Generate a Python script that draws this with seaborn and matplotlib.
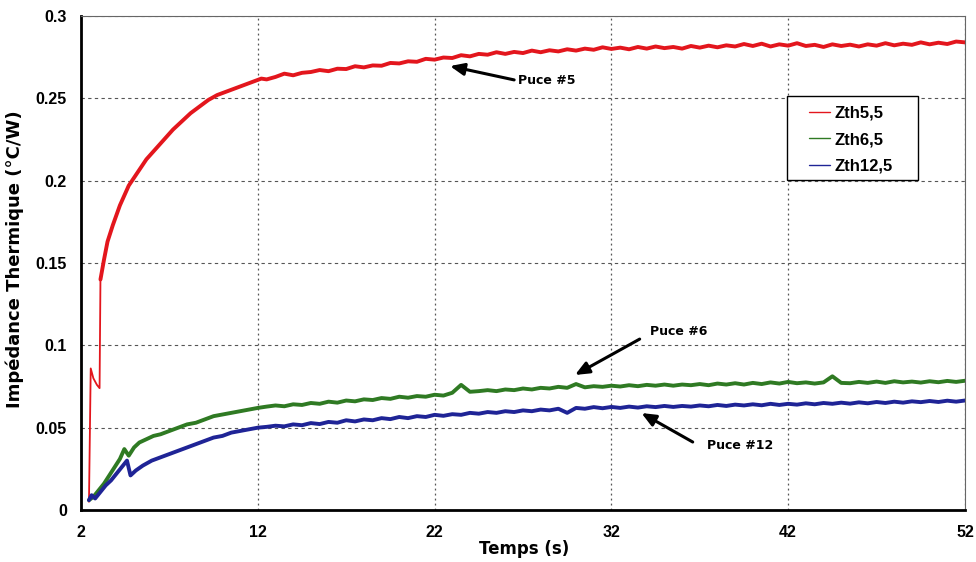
import matplotlib

matplotlib.use("Agg")
import matplotlib.pyplot as plt
import pandas as pd
import seaborn as sns
from matplotlib.patches import Rectangle

# values (time in s, impedance in degC/W)
# first points of the red trace: drop line, short plateau, jump
time_red_start = [2.45, 2.55, 2.7, 2.9, 3.05, 3.1]
zth5_start = [0.005, 0.086, 0.080, 0.076, 0.074, 0.140]

time_red = [3.1, 3.3, 3.5, 3.8, 4.2, 4.7, 5.2, 5.7, 6.2, 6.7, 7.2, 7.7, 8.2, 8.7, 9.2, 9.7,
            10.2, 10.7, 11.2, 11.7, 12.2,
            12.5, 13, 13.5, 14, 14.5, 15, 15.5, 16, 16.5, 17, 17.5, 18, 18.5, 19, 19.5, 20,
            20.5, 21, 21.5, 22, 22.5, 23, 23.5, 24, 24.5, 25, 25.5, 26, 26.5, 27, 27.5, 28,
            28.5, 29, 29.5, 30, 30.5, 31, 31.5, 32, 32.5, 33, 33.5, 34, 34.5, 35, 35.5, 36,
            36.5, 37, 37.5, 38, 38.5, 39, 39.5, 40, 40.5, 41, 41.5, 42, 42.5, 43, 43.5, 44,
            44.5, 45, 45.5, 46, 46.5, 47, 47.5, 48, 48.5, 49, 49.5, 50, 50.5, 51, 51.5, 52]
zth5 = [0.140, 0.152, 0.163, 0.173, 0.185, 0.197, 0.205, 0.213, 0.219, 0.225, 0.231, 0.236,
        0.241, 0.245, 0.249, 0.252, 0.254, 0.256, 0.258, 0.260, 0.262,
        0.2615, 0.2630, 0.2650, 0.2640, 0.2655, 0.2660, 0.2672, 0.2665, 0.2680, 0.2678,
        0.2695, 0.2688, 0.2700, 0.2698, 0.2715, 0.2712, 0.2725, 0.2722, 0.2740, 0.2735,
        0.2748, 0.2745, 0.2762, 0.2755, 0.2770, 0.2765, 0.2780, 0.2770, 0.2782, 0.2775,
        0.2790, 0.2780, 0.2792, 0.2785, 0.2798, 0.2790, 0.2802, 0.2795, 0.2810, 0.2800,
        0.2808, 0.2798, 0.2812, 0.2802, 0.2815, 0.2805, 0.2812, 0.2802, 0.2818, 0.2808,
        0.2820, 0.2810, 0.2822, 0.2815, 0.2830, 0.2818, 0.2832, 0.2815, 0.2828, 0.2820,
        0.2835, 0.2818, 0.2825, 0.2812, 0.2828, 0.2818, 0.2826, 0.2815, 0.2828, 0.2820,
        0.2835, 0.2822, 0.2832, 0.2825, 0.2840, 0.2828, 0.2838, 0.2830, 0.2845, 0.2840]

time_green = [2.45, 2.7, 3.0, 3.3, 3.6, 3.9, 4.2, 4.45, 4.7, 5.0, 5.3, 5.7, 6.1, 6.5, 7.0,
              7.5, 8.0, 8.5, 9.0, 9.5, 10.0, 10.5, 11.0, 11.5, 12.0,
              12.5, 13, 13.5, 14, 14.5, 15, 15.5, 16, 16.5, 17, 17.5, 18, 18.5, 19, 19.5,
              20, 20.5, 21, 21.5, 22, 22.5, 23, 23.5, 24, 24.5, 25, 25.5, 26, 26.5, 27,
              27.5, 28, 28.5, 29, 29.5, 30, 30.5, 31, 31.5, 32, 32.5, 33, 33.5, 34, 34.5,
              35, 35.5, 36, 36.5, 37, 37.5, 38, 38.5, 39, 39.5, 40, 40.5, 41, 41.5, 42,
              42.5, 43, 43.5, 44, 44.5, 45, 45.5, 46, 46.5, 47, 47.5, 48, 48.5, 49, 49.5,
              50, 50.5, 51, 51.5, 52]
zth6 = [0.006, 0.008, 0.012, 0.016, 0.021, 0.026, 0.031, 0.037, 0.033, 0.038, 0.041, 0.043,
        0.045, 0.046, 0.048, 0.050, 0.052, 0.053, 0.055, 0.057, 0.058, 0.059, 0.060, 0.061,
        0.062,
        0.0628, 0.0635, 0.0630, 0.0642, 0.0638, 0.0650, 0.0645, 0.0658, 0.0652, 0.0665,
        0.0660, 0.0672, 0.0668, 0.0680, 0.0675, 0.0688, 0.0682, 0.0692, 0.0688, 0.0700,
        0.0695, 0.0712, 0.0760, 0.0718, 0.0722, 0.0728, 0.0722, 0.0732, 0.0728, 0.0738,
        0.0732, 0.0742, 0.0738, 0.0748, 0.0742, 0.0765, 0.0745, 0.0752, 0.0748, 0.0755,
        0.0750, 0.0758, 0.0752, 0.0760, 0.0755, 0.0762, 0.0755, 0.0762, 0.0758, 0.0765,
        0.0758, 0.0768, 0.0762, 0.0770, 0.0762, 0.0772, 0.0765, 0.0775, 0.0768, 0.0778,
        0.0770, 0.0775, 0.0768, 0.0775, 0.0812, 0.0772, 0.0770, 0.0778, 0.0772, 0.0780,
        0.0772, 0.0782, 0.0775, 0.0780, 0.0774, 0.0782, 0.0776, 0.0784, 0.0778, 0.0785]

time_blue = [2.45, 2.6, 2.8, 3.1, 3.4, 3.7, 4.0, 4.3, 4.6, 4.8, 5.1, 5.5, 6.0, 6.5, 7.0,
             7.5, 8.0, 8.5, 9.0, 9.5, 10.0, 10.5, 11.0, 11.5, 12.0,
             12.5, 13, 13.5, 14, 14.5, 15, 15.5, 16, 16.5, 17, 17.5, 18, 18.5, 19, 19.5,
             20, 20.5, 21, 21.5, 22, 22.5, 23, 23.5, 24, 24.5, 25, 25.5, 26, 26.5, 27,
             27.5, 28, 28.5, 29, 29.5, 30, 30.5, 31, 31.5, 32, 32.5, 33, 33.5, 34, 34.5,
             35, 35.5, 36, 36.5, 37, 37.5, 38, 38.5, 39, 39.5, 40, 40.5, 41, 41.5, 42,
             42.5, 43, 43.5, 44, 44.5, 45, 45.5, 46, 46.5, 47, 47.5, 48, 48.5, 49, 49.5,
             50, 50.5, 51, 51.5, 52]
zth12 = [0.006, 0.009, 0.007, 0.011, 0.015, 0.018, 0.022, 0.026, 0.030, 0.021, 0.024, 0.027,
         0.030, 0.032, 0.034, 0.036, 0.038, 0.040, 0.042, 0.044, 0.045, 0.047, 0.048, 0.049,
         0.050,
         0.0505, 0.0512, 0.0508, 0.0520, 0.0515, 0.0528, 0.0522, 0.0535, 0.0530, 0.0545,
         0.0538, 0.0550, 0.0545, 0.0558, 0.0552, 0.0565, 0.0558, 0.0570, 0.0565, 0.0578,
         0.0572, 0.0582, 0.0578, 0.0590, 0.0585, 0.0595, 0.0590, 0.0600, 0.0595, 0.0605,
         0.0600, 0.0610, 0.0605, 0.0615, 0.0590, 0.0620, 0.0615, 0.0625, 0.0618, 0.0626,
         0.0620, 0.0628, 0.0622, 0.0630, 0.0625, 0.0632, 0.0626, 0.0632, 0.0628, 0.0635,
         0.0630, 0.0638, 0.0632, 0.0640, 0.0635, 0.0642, 0.0636, 0.0645, 0.0638, 0.0645,
         0.0640, 0.0648, 0.0642, 0.0650, 0.0645, 0.0652, 0.0646, 0.0654, 0.0648, 0.0656,
         0.0650, 0.0658, 0.0652, 0.0660, 0.0655, 0.0662, 0.0656, 0.0664, 0.0658, 0.0665]

series_names = ["Zth5,5", "Zth6,5", "Zth12,5"]
series_colors = ["#e3161d", "#2f7a23", "#1f2496"]

x_ticks = [2, 12, 22, 32, 42, 52]
y_ticks = [0, 0.05, 0.1, 0.15, 0.2, 0.25, 0.3]
y_tick_labels = ["0", "0.05", "0.1", "0.15", "0.2", "0.25", "0.3"]

# label, text anchor (left, centre), arrow tail, arrow head
annotations = [
    ("Puce #5", (26.7, 0.2611), (26.5, 0.2612), (22.87, 0.2696)),
    ("Puce #6", (34.2, 0.1087), (33.6, 0.1038), (29.94, 0.0820)),
    ("Puce #12", (37.4, 0.0389), (36.6, 0.0413), (33.7, 0.0589)),
]

frame = pd.concat(
    [
        pd.DataFrame({"time": time_red, "zth": zth5, "series": series_names[0]}),
        pd.DataFrame({"time": time_green, "zth": zth6, "series": series_names[1]}),
        pd.DataFrame({"time": time_blue, "zth": zth12, "series": series_names[2]}),
    ],
    ignore_index=True,
)

sns.set_theme(style="white")
plt.rcParams["font.family"] = ["Liberation Sans", "DejaVu Sans"]
plt.rcParams["text.color"] = "black"
plt.rcParams["axes.labelcolor"] = "black"
plt.rcParams["xtick.color"] = "black"
plt.rcParams["ytick.color"] = "black"
label_font = ["DejaVu Sans"]

fig = plt.figure(figsize=(9.76, 5.62), dpi=100)
ax = fig.add_axes([0.083, 0.0925, 0.9057, 0.879])

ax.plot(time_red_start, zth5_start, color=series_colors[0], linewidth=1.3)
sns.lineplot(
    data=frame, x="time", y="zth", hue="series", hue_order=series_names,
    palette=dict(zip(series_names, series_colors)), estimator=None, sort=False,
    linewidth=2.8, ax=ax, legend=False,
)

ax.set_xlim(2, 52)
ax.set_ylim(0, 0.3)
ax.set_xticks(x_ticks)
ax.set_xticklabels([str(t) for t in x_ticks])
ax.set_yticks(y_ticks)
ax.set_yticklabels(y_tick_labels)
ax.tick_params(axis="both", labelsize=11.5, length=4, width=1.5, color="black",
               labelcolor="black", direction="out")
ax.tick_params(axis="x", pad=7)
ax.tick_params(axis="y", pad=6)
for label in ax.get_xticklabels() + ax.get_yticklabels():
    label.set_fontweight("bold")

ax.grid(axis="y", color="#555555", linestyle=(0, (3, 3)), linewidth=0.8)
ax.grid(axis="x", color="#555555", linestyle=(0, (1.5, 2.5)), linewidth=0.9)

for side in ["left", "bottom"]:
    ax.spines[side].set_color("black")
    ax.spines[side].set_linewidth(2)
for side in ["top", "right"]:
    ax.spines[side].set_color("#666666")
    ax.spines[side].set_linewidth(0.8)

ax.set_xlabel("Temps (s)", fontsize=12, fontweight="bold", family=label_font,
              color="black")
ax.set_ylabel("Impédance Thermique (°C/W)", fontsize=13, fontweight="bold",
              family=label_font, color="black")
ax.xaxis.set_label_coords(0.5017, -0.060)
ax.yaxis.set_label_coords(-0.064, 0.508)

for text, text_xy, tail_xy, head_xy in annotations:
    ax.annotate(
        "", xy=head_xy, xytext=tail_xy,
        arrowprops=dict(arrowstyle="-|>,head_length=0.7,head_width=0.3", color="black",
                        linewidth=2.2, shrinkA=0, shrinkB=0),
    )
    ax.text(text_xy[0], text_xy[1], text, fontsize=9, fontweight="bold",
            family=label_font, ha="left", va="center", color="black")

# legend box drawn separately so its padding can match the reference
ax.add_patch(Rectangle((0.7986, 0.668), 0.1482, 0.170, transform=ax.transAxes,
                       facecolor="white", edgecolor="black", linewidth=1, zorder=4))
handles = [plt.Line2D([], [], color=c, linewidth=1) for c in series_colors]
leg = ax.legend(
    handles, series_names, loc="upper left", bbox_to_anchor=(0.8235, 0.818),
    borderaxespad=0, borderpad=0, frameon=False,
    prop={"weight": "bold", "size": 12}, handlelength=1.25, handletextpad=0.3,
    labelspacing=0.68,
)
leg.set_zorder(5)
for text in leg.get_texts():
    text.set_fontweight("bold")
    text.set_color("black")

fig.savefig("out.png", dpi=100)
